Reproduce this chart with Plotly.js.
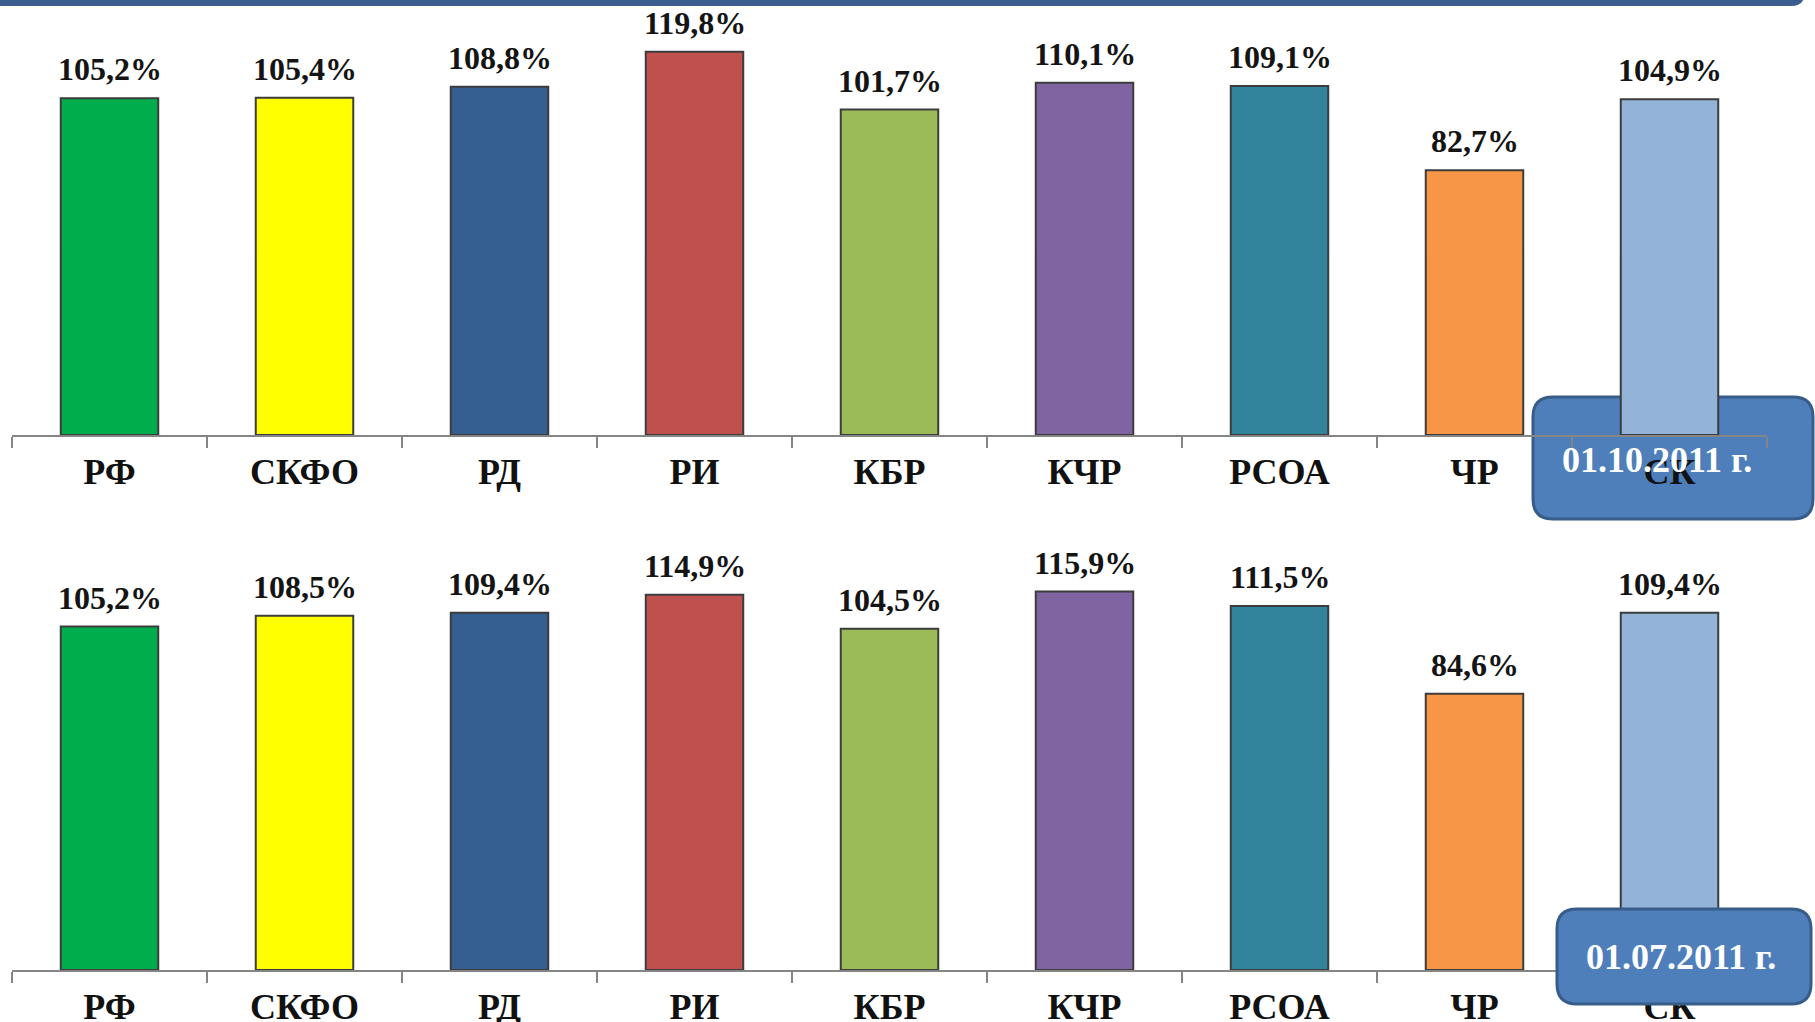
<!DOCTYPE html>
<html>
<head>
<meta charset="utf-8">
<script src="https://cdn.plot.ly/plotly-3.0.1.min.js"></script>
<style>
  html, body { margin: 0; padding: 0; background: #ffffff; }
  #chart { width: 1815px; height: 1022px; }
</style>
</head>
<body>
<div id="chart"></div>
<script>
// ---- data ----
const categories = ['РФ', 'СКФО', 'РД', 'РИ', 'КБР', 'КЧР', 'РСОА', 'ЧР', 'СК'];
const valuesOct2011 = [105.2, 105.4, 108.8, 119.8, 101.7, 110.1, 109.1, 82.7, 104.9];
const valuesJul2011 = [105.2, 108.5, 109.4, 114.9, 104.5, 115.9, 111.5, 84.6, 109.4];
const dateLabels = ['01.10.2011 г.', '01.07.2011 г.'];

// ---- styles ----
const barColors = ['#00ad4d', '#ffff00', '#355e91', '#c0504d', '#9bbb59', '#8064a2', '#31849b', '#f79646', '#93b3d8'];
const W = 1815, H = 1022;
const serif = "'Liberation Serif', 'Times New Roman', Tinos, serif";
const fmt = v => v.toFixed(1).replace('.', ',') + '%';

function px(x) { return x / W; }
function py(y) { return 1 - y / H; }
function roundRect(x0, y0, x1, y1, r) {
  const P = (x, y) => px(x) + ',' + py(y);
  return 'M' + P(x0 + r, y0) + ' L' + P(x1 - r, y0) + ' Q' + P(x1, y0) + ' ' + P(x1, y0 + r) +
         ' L' + P(x1, y1 - r) + ' Q' + P(x1, y1) + ' ' + P(x1 - r, y1) +
         ' L' + P(x0 + r, y1) + ' Q' + P(x0, y1) + ' ' + P(x0, y1 - r) +
         ' L' + P(x0, y0 + r) + ' Q' + P(x0, y0) + ' ' + P(x0 + r, y0) + ' Z';
}

function barTrace(vals, xa, ya) {
  return {
    type: 'bar', x: categories, y: vals, xaxis: xa, yaxis: ya,
    marker: { color: barColors, line: { color: '#3c3c3c', width: 2 } },
    hoverinfo: 'skip', showlegend: false
  };
}

const data = [barTrace(valuesOct2011, 'x', 'y'), barTrace(valuesJul2011, 'x2', 'y2')];

function valueAnnotations(vals, xref, yref) {
  return vals.map((v, i) => ({
    xref: xref, yref: yref, x: categories[i], y: v, text: fmt(v),
    showarrow: false, yanchor: 'bottom', yshift: 9,
    font: { family: serif, size: 32, color: '#141414', weight: 'bold' }
  }));
}

const plotH = 130 * 3.265;
const xDomain = [px(12), px(1767)];
const xAxisBase = {
  type: 'category', range: [-0.5, 8.5], fixedrange: true,
  showline: true, linecolor: '#858585', linewidth: 2,
  ticks: 'outside', tickson: 'boundaries', ticklen: 11, tickwidth: 2, tickcolor: '#858585',
  ticklabelstandoff: 4,
  tickfont: { family: serif, size: 36, color: '#111111', weight: 'bold' },
  showgrid: false, zeroline: false
};
const yAxisBase = { visible: false, showgrid: false, zeroline: false, fixedrange: true };

const layout = {
  width: W, height: H,
  margin: { l: 0, r: 0, t: 0, b: 0 },
  paper_bgcolor: '#ffffff', plot_bgcolor: 'rgba(0,0,0,0)',
  bargap: 0.5,
  showlegend: false,
  xaxis: Object.assign({}, xAxisBase, { domain: xDomain, anchor: 'y' }),
  yaxis: Object.assign({}, yAxisBase, { range: [0, plotH / 3.2], domain: [py(435), py(435 - plotH)], anchor: 'x' }),
  xaxis2: Object.assign({}, xAxisBase, { domain: xDomain, anchor: 'y2' }),
  yaxis2: Object.assign({}, yAxisBase, { range: [0, 130], domain: [py(970), py(970 - plotH)], anchor: 'x2' }),
  shapes: [
    // top header band
    { type: 'path', xref: 'paper', yref: 'paper', layer: 'above',
      path: roundRect(-20, -30, 1805, 6, 14),
      fillcolor: '#3b5e8e', line: { width: 0 } },
    // 01.10.2011 box (behind chart)
    { type: 'path', xref: 'paper', yref: 'paper', layer: 'below',
      path: roundRect(1533, 397, 1813, 519, 20),
      fillcolor: '#4f7fbb', line: { color: '#385d8a', width: 3 } },
    // 01.07.2011 box (over chart)
    { type: 'path', xref: 'paper', yref: 'paper', layer: 'above',
      path: roundRect(1557, 909, 1811, 1004, 20),
      fillcolor: '#4f7fbb', line: { color: '#385d8a', width: 3 } }
  ],
  annotations: [].concat(
    valueAnnotations(valuesOct2011, 'x', 'y'),
    valueAnnotations(valuesJul2011, 'x2', 'y2'),
    [
      { xref: 'paper', yref: 'paper', x: px(1657), y: py(460), text: dateLabels[0], showarrow: false,
        xanchor: 'center', yanchor: 'middle',
        font: { family: serif, size: 36, color: '#ffffff', weight: 'bold' } },
      { xref: 'paper', yref: 'paper', x: px(1681), y: py(957), text: dateLabels[1], showarrow: false,
        xanchor: 'center', yanchor: 'middle',
        font: { family: serif, size: 36, color: '#ffffff', weight: 'bold' } }
    ]
  )
};

Plotly.newPlot('chart', data, layout, { displayModeBar: false, staticPlot: true });
</script>
</body>
</html>
